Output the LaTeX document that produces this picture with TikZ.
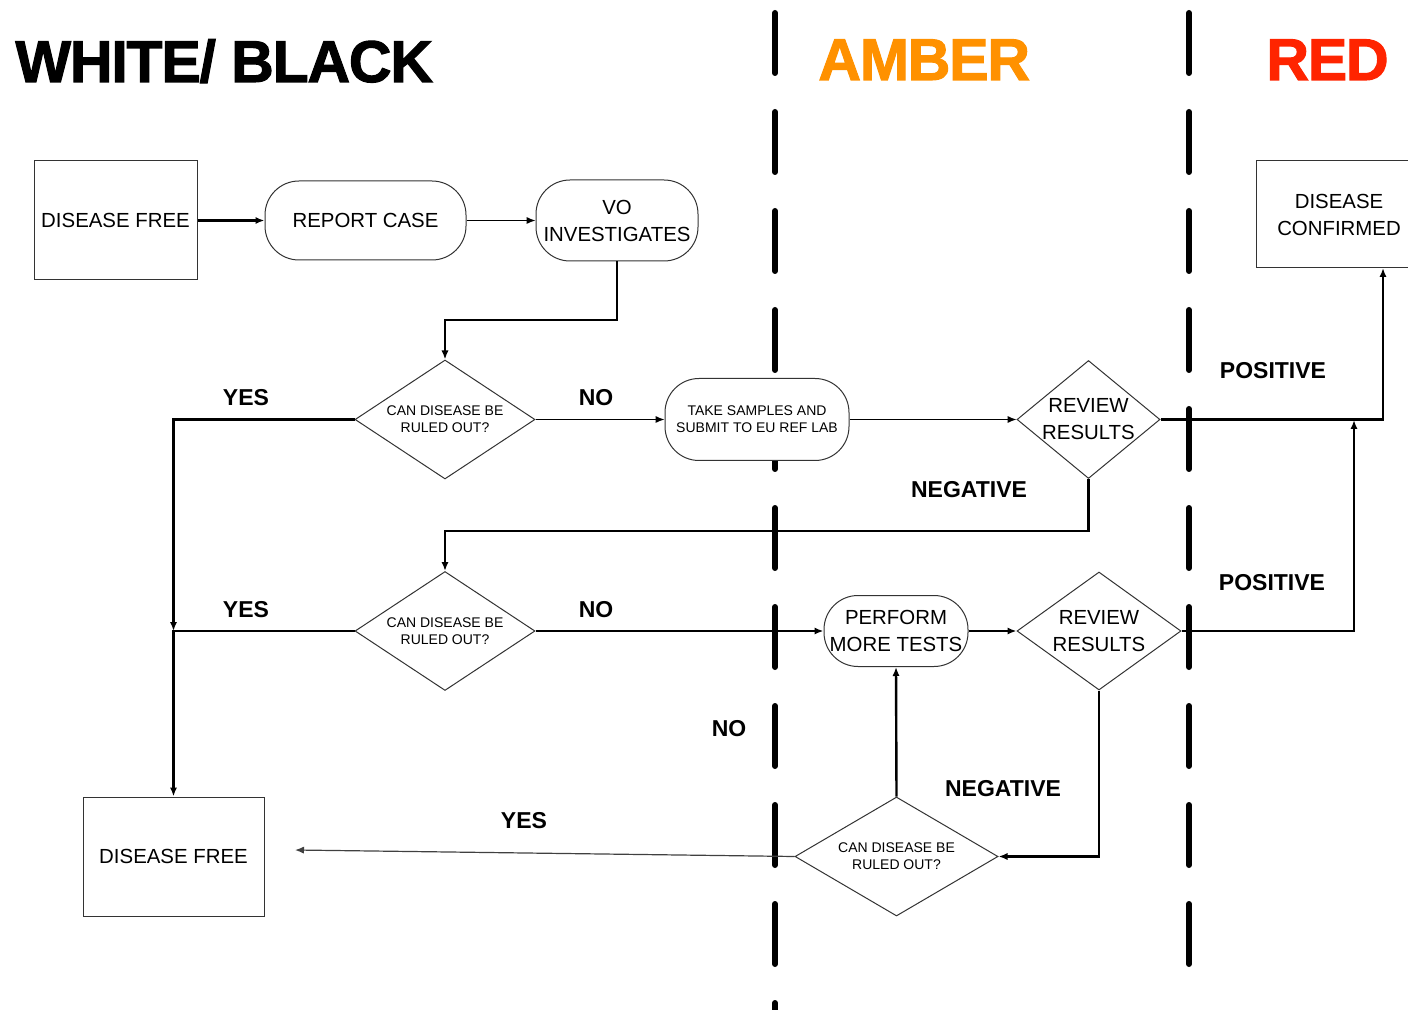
\documentclass[tikz,border=0pt]{standalone}
\usepackage{fontspec}
\setmainfont{Liberation Sans}
\newfontfamily\heavyfont{Liberation Sans Bold}[FakeBold=1.8,LetterSpace=-2]
\usetikzlibrary{shapes.geometric,arrows.meta}
\definecolor{amber}{RGB}{255,145,0}
\definecolor{alert}{RGB}{255,36,0}

\begin{document}
\begin{tikzpicture}[x=0.5pt,y=-0.5pt,
    txt/.style={font=\fontsize{10.2}{13.5}\selectfont,align=center},
    asktxt/.style={font=\fontsize{7}{8.5}\selectfont,align=center},
    box/.style={draw=black!80,line width=.5pt,fill=white,inner sep=0pt,txt},
    proc/.style={box,rounded corners=17pt},
    ask/.style={box,diamond,inner sep=-8pt},
    lbl/.style={font=\fontsize{11.5}{13}\selectfont\bfseries},
    title/.style={anchor=base west,inner sep=0pt,font=\heavyfont\fontsize{29.5}{30}\selectfont},
    zone/.style={line width=3pt,line cap=round,dash pattern=on 30pt off 19.5pt},
    flow/.style={line width=1.2pt,-{Latex[length=4.5pt,width=3.6pt]}},
    thinflow/.style={line width=.6pt,-{Latex[length=4.5pt,width=3.6pt]}}]
  \useasboundingbox (0,0) rectangle (1408,1010);
  \clip (0,0) rectangle (1408,1010);

  % zones
  \draw[zone] (775,13) -- (775,1012);
  \draw[zone] (1189,13) -- (1189,967);
  \node[title] at (15,82) {WHITE/ BLACK};
  \node[title,text=amber] at (818,80) {AMBER};
  \node[title,text=alert] at (1266,80) {RED};

  % steps
  \draw
    (115.5,220.5) node[box,minimum width=81.5pt,minimum height=59.5pt] (df1) {DISEASE FREE}
    (365.5,220.5) node[proc,minimum width=100.5pt,minimum height=39.5pt] (rc) {REPORT CASE}
    (617,220.5) node[proc,minimum width=81pt,minimum height=40.5pt] (vo) {VO\\INVESTIGATES}
    (445,419.5) node[ask,asktxt,minimum width=90pt,minimum height=59.5pt] (q1) {CAN DISEASE BE\\RULED OUT?}
    (757,419.5) node[proc,asktxt,minimum width=92pt,minimum height=41pt] (ts) {TAKE SAMPLES AND\\SUBMIT TO EU REF LAB}
    (1088.5,419.5) node[ask,minimum width=71.5pt,minimum height=59pt] (rv1) {REVIEW\\RESULTS}
    (1339,214.5) node[box,minimum width=83pt,minimum height=53.5pt] (dc) {DISEASE\\CONFIRMED}
    (445,631) node[ask,asktxt,minimum width=90pt,minimum height=59.5pt] (q2) {CAN DISEASE BE\\RULED OUT?}
    (896,631) node[proc,minimum width=72pt,minimum height=35.5pt] (pt) {PERFORM\\MORE TESTS}
    (1099,631) node[ask,minimum width=82pt,minimum height=59pt] (rv2) {REVIEW\\RESULTS}
    (896.5,856.5) node[ask,asktxt,minimum width=101.5pt,minimum height=59.5pt] (q3) {CAN DISEASE BE\\RULED OUT?}
    (173.5,856.5) node[box,minimum width=90.5pt,minimum height=59.5pt] (df2) {DISEASE FREE};

  \coordinate (j) at (173.5,631);
  \coordinate (dcin) at (1383,268);
  \coordinate (p1) at (1354,420);
  \coordinate (df2in) at (295,850);

  % connectors
  \begin{scope}
    \draw[flow] (df1) -- (rc);
    \draw[thinflow] (rc) -- (vo);
    \draw[flow] (vo.south) -- (617,320) -| (q1.north);
    \draw[flow] (q1.west) -| (j);
    \draw[flow] (q2.west) -- (j) -- (df2.north);
    \draw[thinflow] (q1.east) -- (ts.west);
    \draw[thinflow] (ts.east) -- (rv1.west);
    \draw[flow] (rv1.east) -| (dcin);
    \draw[flow] (rv1.south) -- (1088.5,531) -| (q2.north);
    \draw[flow] (q2.east) -- (pt.west);
    \draw[flow] (pt.east) -- (rv2.west);
    \draw[flow] (rv2.east) -| (p1);
    \draw[flow] (rv2.south) |- (q3.east);
    \draw[flow] (q3.north) -- (pt.south);
    \draw[thinflow,black!75] (q3.west) -- (df2in);
  \end{scope}

  % labels
  \node[lbl] at (246,398) {YES};
  \node[lbl] at (596,398) {NO};
  \node[lbl] at (246,610) {YES};
  \node[lbl] at (596,610) {NO};
  \node[lbl] at (1273,371) {POSITIVE};
  \node[lbl] at (1272,583) {POSITIVE};
  \node[lbl] at (969,490) {NEGATIVE};
  \node[lbl] at (1003,789) {NEGATIVE};
  \node[lbl] at (729,729) {NO};
  \node[lbl] at (524,821) {YES};
\end{tikzpicture}
\end{document}
